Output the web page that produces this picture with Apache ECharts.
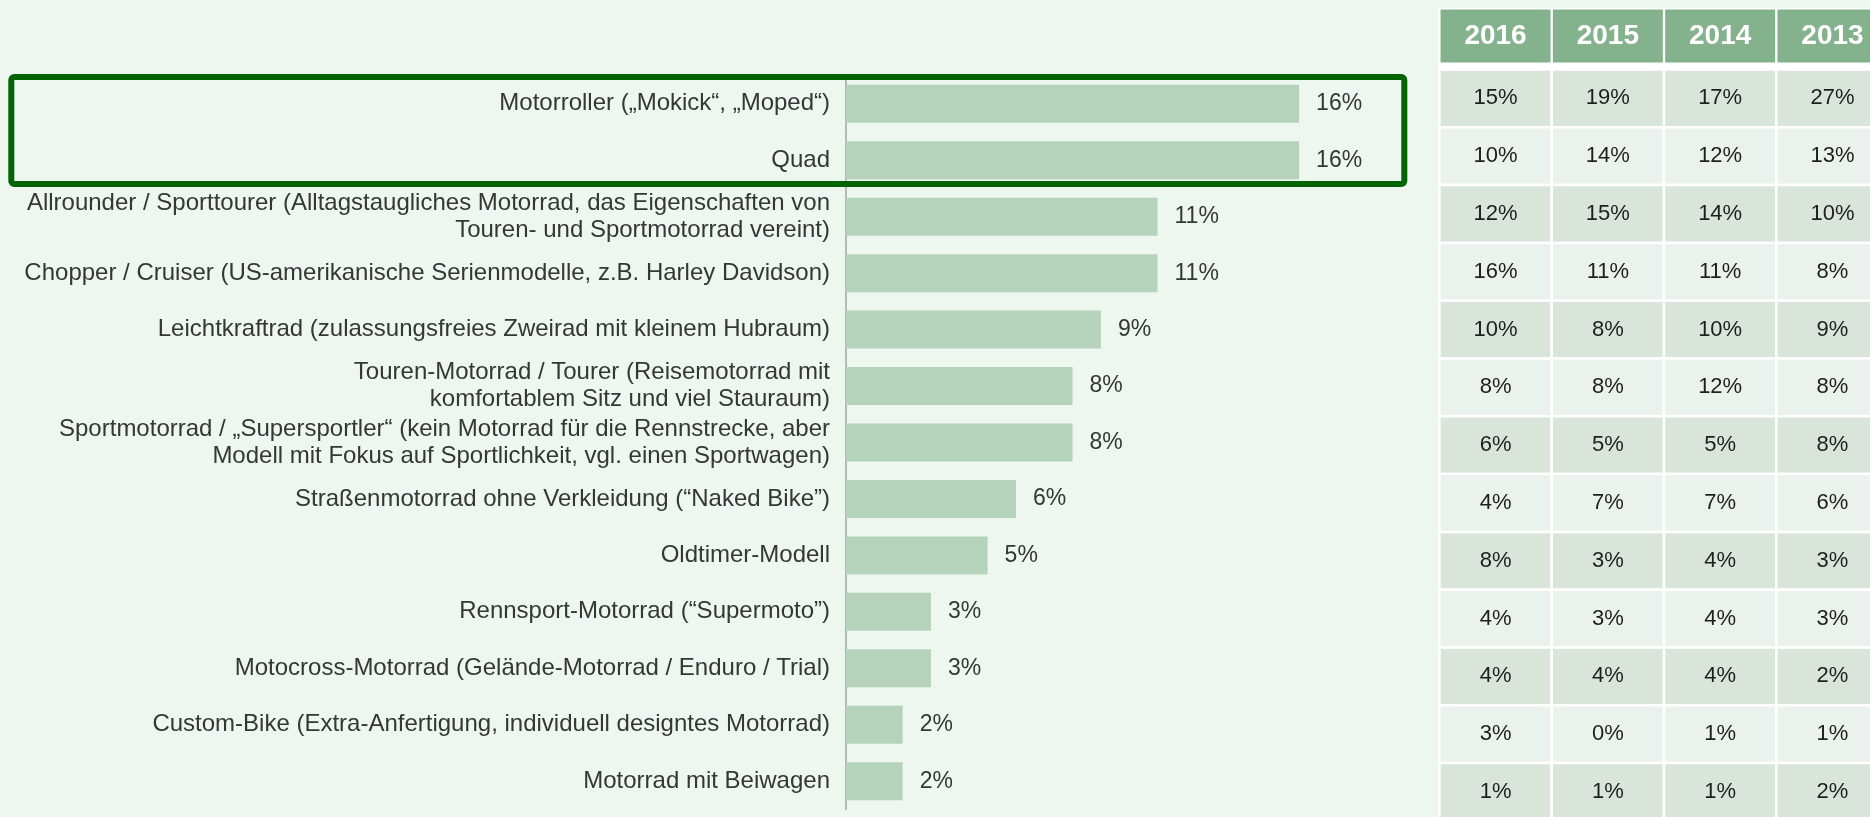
<!DOCTYPE html>
<html>
<head>
<meta charset="utf-8">
<script src="https://cdn.jsdelivr.net/npm/echarts@6/dist/echarts.min.js"></script>
<style>
  html, body { margin: 0; padding: 0; background: #edf6ef; }
  #chart { width: 1870px; height: 817px; }
</style>
</head>
<body>
<div id="chart"></div>
<script>
// Kategorien (von oben nach unten)
var categories = [
  'Motorroller („Mokick“, „Moped“)',
  'Quad',
  'Allrounder / Sporttourer (Alltagstaugliches Motorrad, das Eigenschaften von\nTouren- und Sportmotorrad vereint)',
  'Chopper / Cruiser (US-amerikanische Serienmodelle, z.B. Harley Davidson)',
  'Leichtkraftrad (zulassungsfreies Zweirad mit kleinem Hubraum)',
  'Touren-Motorrad / Tourer (Reisemotorrad mit\nkomfortablem Sitz und viel Stauraum)',
  'Sportmotorrad / „Supersportler“ (kein Motorrad für die Rennstrecke, aber\nModell mit Fokus auf Sportlichkeit, vgl. einen Sportwagen)',
  'Straßenmotorrad ohne Verkleidung (“Naked Bike”)',
  'Oldtimer-Modell',
  'Rennsport-Motorrad (“Supermoto”)',
  'Motocross-Motorrad (Gelände-Motorrad / Enduro / Trial)',
  'Custom-Bike (Extra-Anfertigung, individuell designtes Motorrad)',
  'Motorrad mit Beiwagen'
];

// aktuelle Werte (Balken), in %
var barValues = [16, 16, 11, 11, 9, 8, 8, 6, 5, 3, 3, 2, 2];

// Vorjahre (Tabelle rechts), in %
var years = ['2016', '2015', '2014', '2013'];
var values2016 = [15, 10, 12, 16, 10, 8, 6, 4, 8, 4, 4, 3, 1];
var values2015 = [19, 14, 15, 11, 8, 8, 5, 7, 3, 3, 4, 0, 1];
var values2014 = [17, 12, 14, 11, 10, 12, 5, 7, 4, 4, 4, 1, 1];
var values2013 = [27, 13, 10, 8, 9, 8, 8, 6, 3, 3, 2, 1, 2];

var font = "'Liberation Sans', Arial, sans-serif";
var textColor = '#363636';

// Tabellenzellen: [Spalte, Zeile, Wert]
var tableColumns = [values2016, values2015, values2014, values2013];
var tableData = [];
tableColumns.forEach(function (col, c) {
  col.forEach(function (v, r) {
    tableData.push([c, r, v]);
  });
});
var rowIds = categories.map(function (_, i) { return String(i); });

var chart = echarts.init(document.getElementById('chart'));

chart.setOption({
  backgroundColor: '#edf6ef',
  animation: false,
  grid: [
    { left: 846, top: 75.6, width: 566.4, height: 733.8, outerBoundsMode: 'none' },
    // Tabelle ragt rechts/unten etwas über den Rand hinaus
    { left: 1439.4, top: 69.5, width: 449.2, height: 751.4, outerBoundsMode: 'none' }
  ],
  xAxis: [
    { type: 'value', gridIndex: 0, min: 0, max: 20, show: false },
    {
      type: 'category',
      gridIndex: 1,
      position: 'top',
      data: years,
      axisLine: { show: false },
      axisTick: { show: false },
      axisLabel: {
        interval: 0,
        margin: 7,
        color: '#fff',
        fontWeight: 'bold',
        fontSize: 28,
        fontFamily: font,
        backgroundColor: '#84b28c',
        width: 110,
        height: 53,
        lineHeight: 53,
        align: 'center'
      }
    }
  ],
  yAxis: [
    {
      type: 'category',
      gridIndex: 0,
      inverse: true,
      data: categories,
      axisLine: { lineStyle: { color: '#a3a3a3', width: 1.5 } },
      axisTick: { length: 6, lineStyle: { color: '#a3a3a3', width: 1.5 } },
      axisLabel: {
        interval: 0,
        margin: 16,
        color: textColor,
        fontSize: 24,
        lineHeight: 27,
        fontFamily: font
      }
    },
    {
      type: 'category',
      gridIndex: 1,
      inverse: true,
      data: rowIds,
      show: false
    }
  ],
  graphic: [
    // weißer Hintergrund der Tabelle
    {
      type: 'rect',
      z: -1,
      shape: { x: 1438, y: 8, width: 440, height: 820 },
      style: { fill: '#ffffff' }
    },
    // Hervorhebung der ersten beiden Kategorien
    {
      type: 'rect',
      z: 50,
      shape: { x: 11.3, y: 77, width: 1393, height: 107, r: 3 },
      style: { fill: 'transparent', stroke: '#006400', lineWidth: 6 }
    }
  ],
  series: [
    {
      type: 'bar',
      xAxisIndex: 0,
      yAxisIndex: 0,
      data: barValues,
      barWidth: 38,
      itemStyle: { color: '#b5d2bb' },
      label: {
        show: true,
        position: 'right',
        distance: 17,
        formatter: '{c}%',
        color: textColor,
        fontSize: 23,
        fontFamily: font
      }
    },
    {
      type: 'custom',
      xAxisIndex: 1,
      yAxisIndex: 1,
      data: tableData,
      renderItem: function (params, api) {
        var p = api.coord([api.value(0), api.value(1)]);
        var s = api.size([1, 1]);
        var row = api.value(1);
        return {
          type: 'group',
          children: [
            {
              type: 'rect',
              shape: { x: p[0] - s[0] / 2, y: p[1] - s[1] / 2, width: s[0], height: s[1] },
              style: { fill: row % 2 === 0 ? '#d9e4db' : '#ebf1ec', stroke: '#ffffff', lineWidth: 2.5 }
            },
            {
              type: 'text',
              style: {
                x: p[0],
                y: p[1],
                text: api.value(2) + '%',
                textAlign: 'center',
                textVerticalAlign: 'middle',
                fill: '#1e1e1e',
                font: '22px ' + font
              }
            }
          ]
        };
      }
    }
  ]
});
</script>
</body>
</html>
